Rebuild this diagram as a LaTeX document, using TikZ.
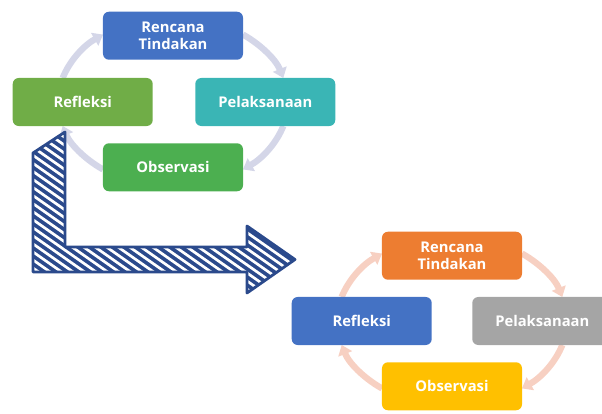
\documentclass[tikz,border=0pt]{standalone}
\usepackage{fontspec}
\setmainfont{Open Sans}
\usepackage{xcolor}
\usepackage{tikz}
\usetikzlibrary{positioning}
\usetikzlibrary{arrows.meta}
\definecolor{cblue}{HTML}{4472C4}
\definecolor{cgreen}{HTML}{70AD47}
\definecolor{cteal}{HTML}{3AB5B5}
\definecolor{cgreentwo}{HTML}{4CAF50}
\definecolor{corange}{HTML}{ED7D31}
\definecolor{cgray}{HTML}{A5A5A5}
\definecolor{cyellow}{HTML}{FFC000}
\definecolor{ringlav}{HTML}{D4D6E8}
\definecolor{ringpeach}{HTML}{F7D0C2}
\definecolor{navy}{HTML}{2B4A8C}
\tikzset{
    box/.style={rectangle, rounded corners=1.5mm, minimum height=12mm, minimum width=35mm, text=white, align=center, font=\bfseries\fontsize{10.5}{12}\selectfont},
    ringa/.style={line width=4.5pt, draw=ringlav, -{Triangle[length=2.4mm,width=3.6mm]}},
    ringb/.style={line width=4.5pt, draw=ringpeach, -{Triangle[length=2.4mm,width=3.6mm]}},
    bent/.style={draw=navy, fill=navy, line width=2pt, line join=round},
    stripe/.style={white, line width=1.9pt}
}

\begin{document}
\begin{tikzpicture}[x=0.25mm, y=0.25mm]

\useasboundingbox (0,0) rectangle (602,-414);
\clip (0,0) rectangle (602,-414);

% first cycle
\coordinate (c1) at (173,-102);
\foreach \a/\b in {52.5/16.4, -16.4/-52.5, -127.5/-163.6, 163.6/127.5}
    \draw [ringa] (c1) ++(\a:115 and 85) arc [start angle=\a, end angle=\b, x radius=115, y radius=85];

\node [box, fill=cblue, above=10.5mm of c1]      (rencana1)     {Rencana\\Tindakan};
\node [box, fill=cteal, right=5.5mm of c1]       (pelaksanaan1) {Pelaksanaan};
\node [box, fill=cgreentwo, below=10.25mm of c1] (observasi1)   {Observasi};
\node [box, fill=cgreen, left=5mm of c1]         (refleksi1)    {Refleksi};

% second cycle
\coordinate (c2) at (452,-321);
\foreach \a/\b in {52.5/16.4, -16.4/-52.5, -127.5/-163.6, 163.6/127.5}
    \draw [ringb] (c2) ++(\a:115 and 85) arc [start angle=\a, end angle=\b, x radius=115, y radius=85];

\node [box, fill=corange, above=10.25mm of c2]  (rencana2)     {Rencana\\Tindakan};
\node [box, fill=cgray, right=5mm of c2]        (pelaksanaan2) {Pelaksanaan};
\node [box, fill=cyellow, below=10.25mm of c2]  (observasi2)   {Observasi};
\node [box, fill=cblue, left=5mm of c2]         (refleksi2)    {Refleksi};

% hatched bent arrow
\draw [bent, path picture={
        \foreach \i in {-24,...,24}
            \draw [stripe] (\i*11.5,-100) -- ++(300,-210);
    }]
    (33,-153) -- (65,-132) -- (65,-247) -- (247,-247) -- (247,-226)
    -- (295,-259.5) -- (247,-293) -- (247,-272) -- (33,-272) -- cycle;

\end{tikzpicture}
\end{document}
